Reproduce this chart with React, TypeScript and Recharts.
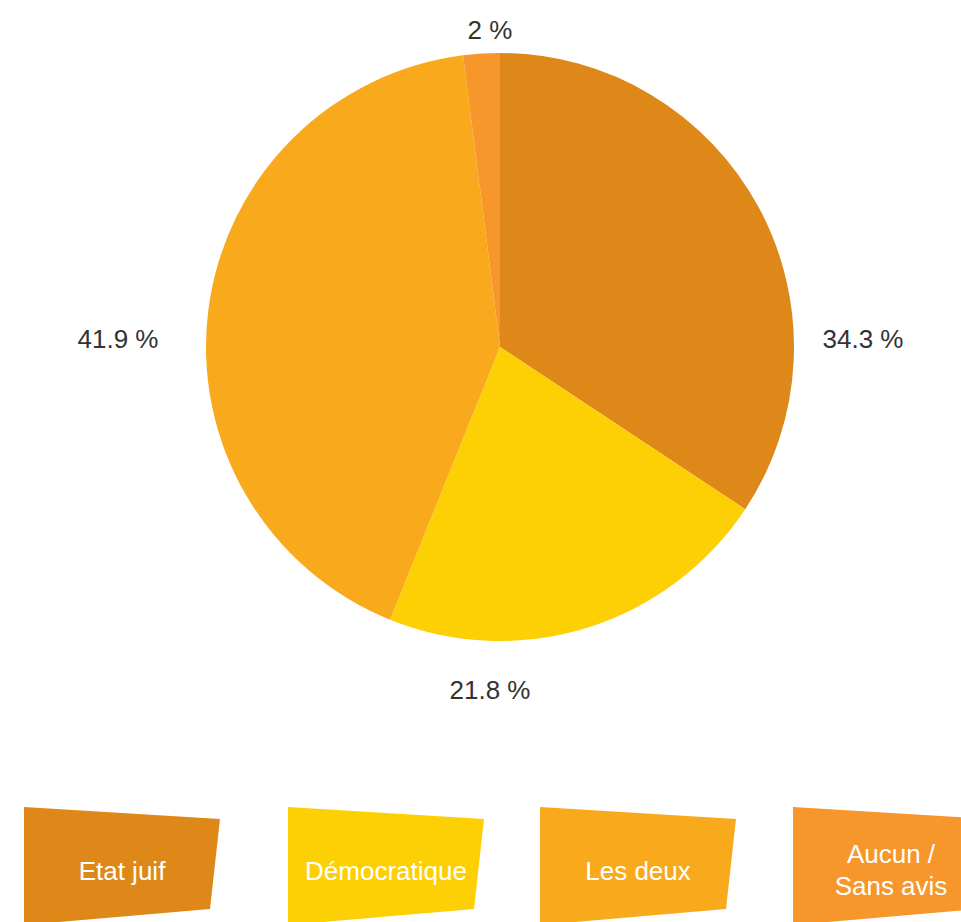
import { PieChart, Pie, Cell, Legend } from 'recharts'

const CATEGORIES = ['Etat juif', 'Démocratique', 'Les deux', 'Aucun / Sans avis']
const VALUES = [34.3, 21.8, 41.9, 2]
const LABELS = ['34.3 %', '21.8 %', '41.9 %', '2 %']
const COLORS = ['#de8819', '#fdd006', '#f8a91c', '#f7962a']

const W = 961
const H = 922
const FONT = '"Liberation Sans", Arial, sans-serif'
const LEGEND_X = [24, 288, 540, 793]

const data = CATEGORIES.map((name, i) => ({ name, value: VALUES[i], label: LABELS[i] }))

const RADIAN = Math.PI / 180

// labels snap to the side of the pie the slice faces
function renderLabel(props: any) {
  const { cx, cy, midAngle, outerRadius, index } = props
  const c = Math.cos(midAngle * RADIAN)
  const s = Math.sin(midAngle * RADIAN)
  let x = cx
  let y = cy
  if (Math.abs(c) > Math.abs(s)) {
    x = c > 0 ? cx + outerRadius + 69 : cx - outerRadius - 88
    y = cy + 1
  } else {
    x = cx - 10
    y = s > 0 ? cy - outerRadius - 14 : cy + outerRadius + 58
  }
  return (
    <text key={index} x={x} y={y} textAnchor="middle" fill="#333" fontSize={26} fontFamily={FONT}>
      {LABELS[index]}
    </text>
  )
}

function SkewLegend({ payload }: any) {
  const items = [...(payload ?? [])].sort(
    (a: any, b: any) => CATEGORIES.indexOf(a.value) - CATEGORIES.indexOf(b.value)
  )
  return (
    <svg width={W} height={132} style={{ display: 'block' }}>
      {items.map((p: any, i: number) => {
        const name = String(p.value)
        const lines = name.includes(' / ') ? name.replace(' / ', ' /\n').split('\n') : [name]
        return (
          <g key={name} transform={`translate(${LEGEND_X[i]}, 17)`}>
            <polygon points="0,0 196,12 186,102 0,118" fill={p.color} />
            {lines.map((ln: string, j: number) => (
              <text
                key={j}
                x={98}
                y={lines.length === 1 ? 73 : 56 + j * 32}
                textAnchor="middle"
                fill="#fff"
                fontSize={26}
                fontFamily={FONT}
              >
                {ln}
              </text>
            ))}
          </g>
        )
      })}
    </svg>
  )
}

export default function App() {
  return (
    <div style={{ position: 'absolute', left: 0, top: 0, width: W, height: H, background: '#fff', overflow: 'hidden' }}>
      <PieChart width={W} height={H} margin={{ top: 0, right: 0, bottom: 0, left: 0 }}>
        <Pie
          data={data}
          dataKey="value"
          nameKey="name"
          cx={500}
          cy={347}
          outerRadius={294}
          startAngle={90}
          endAngle={-270}
          stroke="none"
          label={renderLabel}
          labelLine={false}
          isAnimationActive={false}
        >
          {data.map((d, i) => (
            <Cell key={d.name} fill={COLORS[i]} />
          ))}
        </Pie>
        <Legend
          content={<SkewLegend />}
          wrapperStyle={{ position: 'absolute', left: 0, top: 790, width: W, height: 132 }}
        />
      </PieChart>
    </div>
  )
}
